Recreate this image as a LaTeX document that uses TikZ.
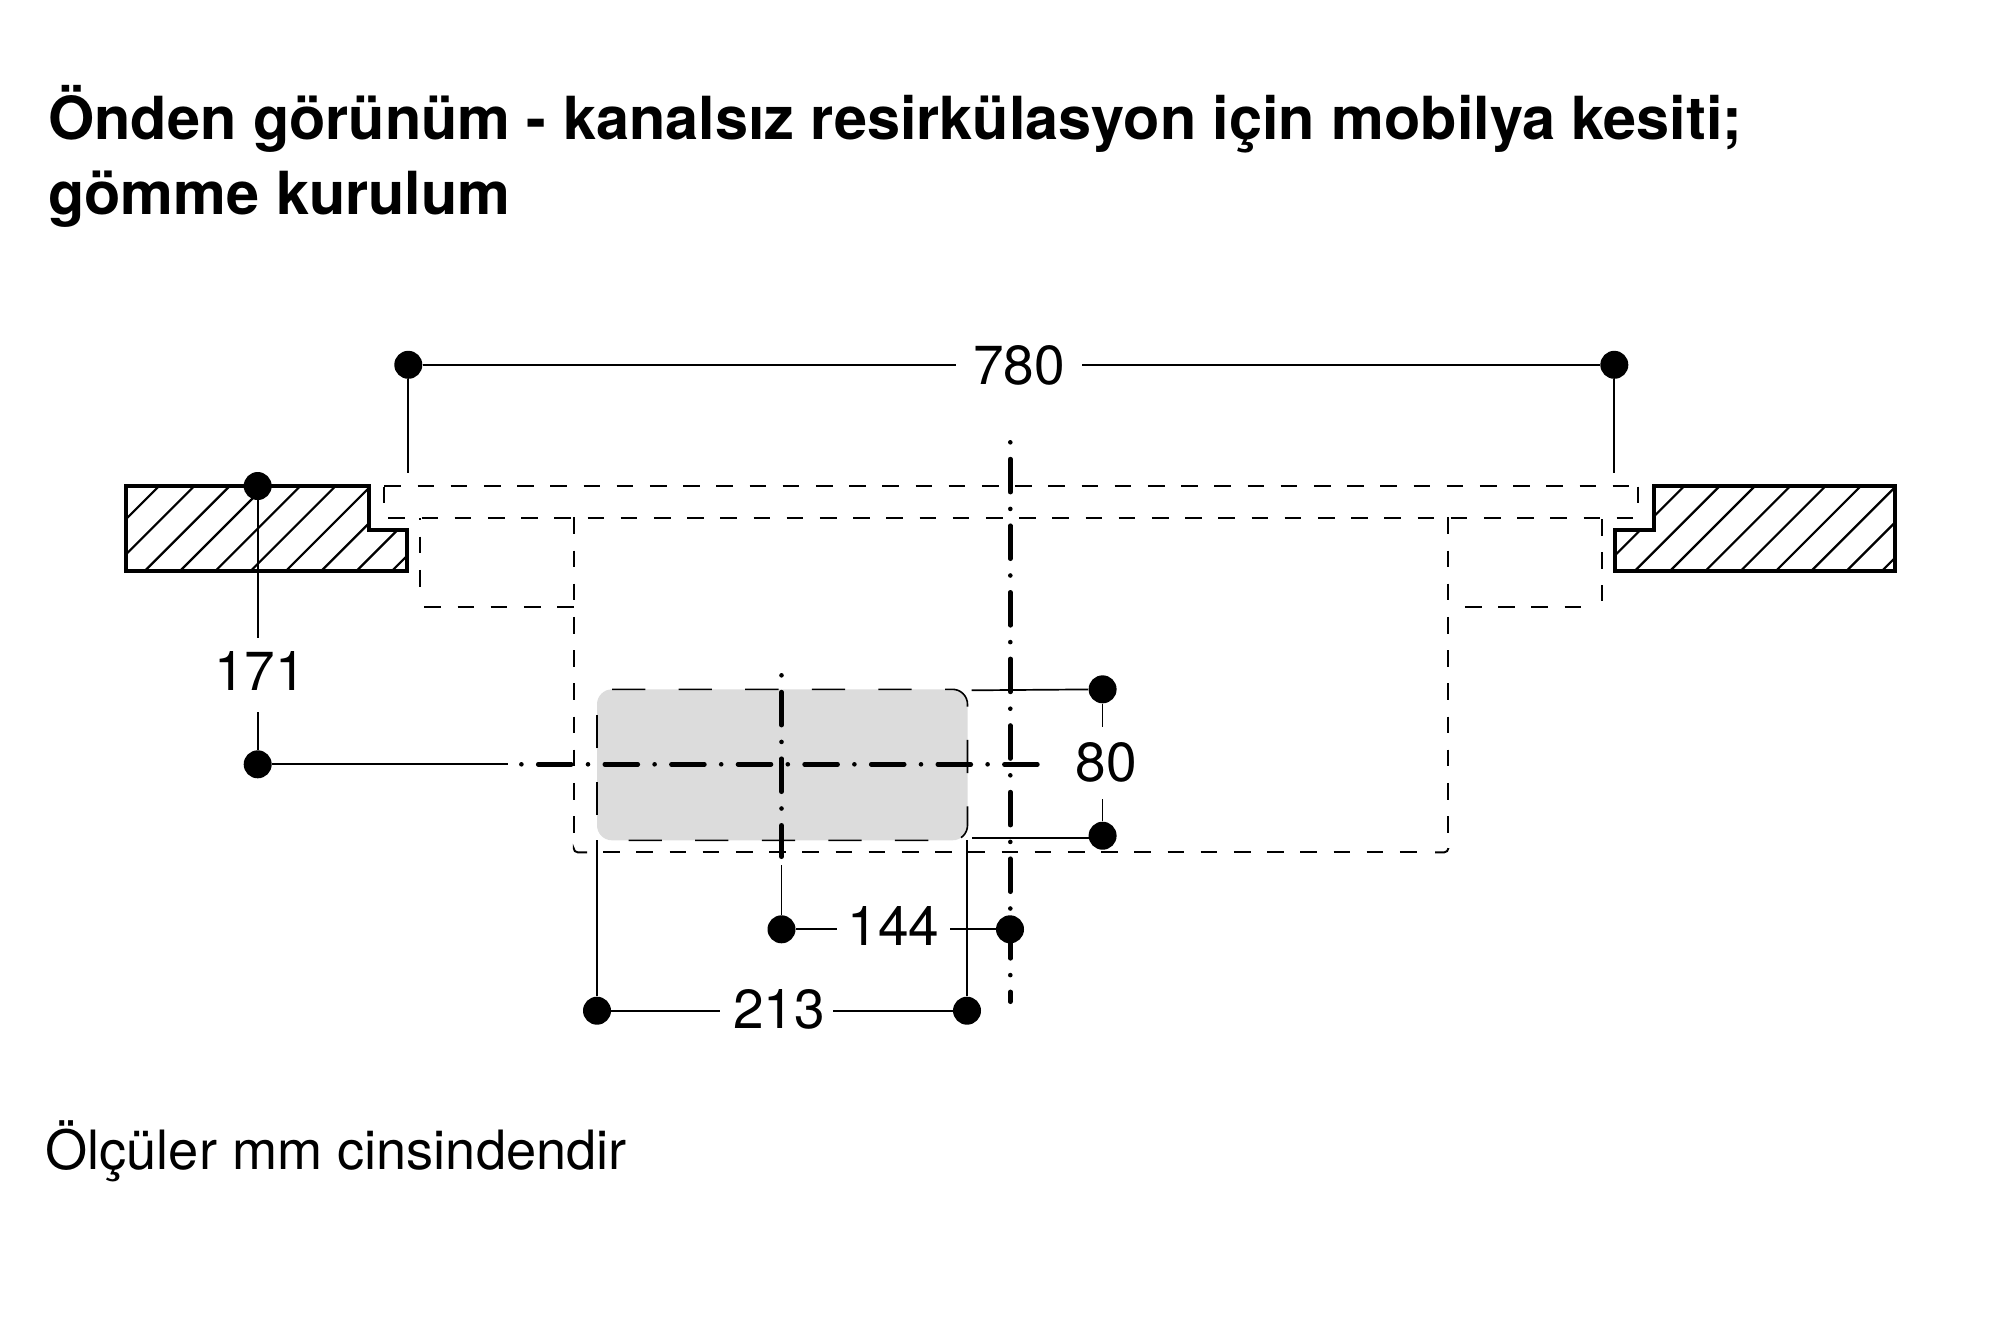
\documentclass[tikz,border=0pt]{standalone}
\usepackage{fontspec}
\setmainfont{TeX Gyre Heros}
\definecolor{panelgray}{HTML}{DCDCDC}
\tikzset{
  x=0.5pt,y=-0.5pt,
  wall/.style={draw=black,line width=2pt,line join=miter},
  hatchline/.style={line width=1.1pt},
  hidden/.style={line width=0.95pt,dash pattern=on 8.3pt off 8.3pt},
  cornerline/.style={line width=0.95pt,rounded corners=2pt},
  panelline/.style={line width=0.8pt,dash pattern=on 16.65pt off 16.65pt},
  axis/.style={line width=2.3pt,line cap=round,dash pattern=on 0pt off 8.4pt on 16.5pt off 8.4pt},
  dimline/.style={line width=0.85pt},
  dimdot/.style={circle,fill=black,inner sep=0pt,minimum size=14pt},
  dimlabel/.style={font=\fontsize{27.5}{30}\selectfont,inner xsep=5pt,inner ysep=0pt,text height=19pt,text depth=0pt},
  titletext/.style={font=\fontsize{29.7}{34}\selectfont\bfseries,anchor=base west,inner sep=0pt},
  notetext/.style={font=\fontsize{27.1}{30}\selectfont,anchor=base west,inner sep=0pt},
}
\begin{document}
\begin{tikzpicture}
\useasboundingbox (0,0) rectangle (2000,1334);
% texts
\node[titletext] (t1) at (48,139) {Önden görünüm - kanalsız resirkülasyon için mobilya kesiti;};
\node[titletext] (t2) at (48,214) {gömme kurulum};
\node[notetext] (note) at (45,1169) {Ölçüler mm cinsindendir};
% gray panel
\fill[panelgray,rounded corners=7.5pt] (597,689.3) rectangle (967.5,840.3);
\draw[panelline,rounded corners=7.5pt] (612,689.3) -- (967.5,689.3) -- (967.5,840.3) -- (612,840.3);
\draw[panelline] (597,815) -- (597,700);
% walls
\begin{scope}
\clip (125.7,486) -- (368.7,486) -- (368.7,530) -- (406.7,530) -- (406.7,570.7) -- (125.7,570.7) -- cycle;
\foreach \k in {-3,...,9} \draw[hatchline] ({145+35.3*\k},570.7) -- ({145+35.3*\k+100},470.7);
\end{scope}
\draw[wall] (125.7,486) -- (368.7,486) -- (368.7,530) -- (406.7,530) -- (406.7,570.7) -- (125.7,570.7) -- cycle;
\begin{scope}
\clip (1895,486) -- (1654,486) -- (1654,530) -- (1615,530) -- (1615,570.7) -- (1895,570.7) -- cycle;
\foreach \k in {-2,...,8} \draw[hatchline] ({1635+35.3*\k},570.7) -- ({1635+35.3*\k+100},470.7);
\end{scope}
\draw[wall] (1895,486) -- (1654,486) -- (1654,530) -- (1615,530) -- (1615,570.7) -- (1895,570.7) -- cycle;
% hidden lines
\draw[hidden] (384.3,486) -- (1637.7,486);
\draw[hidden] (384.3,486.5) -- (384.3,503);
\draw[hidden] (1637.7,486.5) -- (1637.7,503);
\draw[hidden] (388.3,518.3) -- (1633.3,518.3);
\draw[hidden,dash phase=7.4] (420,518.3) -- (420,592);
\draw[hidden] (424.3,607.3) -- (573.7,607.3);
\draw[hidden] (573.7,517.3) -- (573.7,833);
\draw[cornerline] (573.7,849) -- (573.7,852.3) -- (587,852.3);
\draw[hidden] (603.1,852.3) -- (1432,852.3);
\draw[cornerline] (1435,852.3) -- (1448.3,852.3) -- (1448.3,848);
\draw[hidden] (1448.3,517.3) -- (1448.3,833);
\draw[hidden,dash phase=8.3] (1448.3,607.3) -- (1589.5,607.3);
\draw[hidden] (1602.3,519) -- (1602.3,601);
% axes
\draw[axis] (1010.3,442.3) -- (1010.3,1001.7);
\draw[axis] (781.5,675.3) -- (781.5,856.7);
\draw[axis] (521.4,764.3) -- (1038.7,764.3);
% dimensions
\node[dimdot] (a1) at (408.3,364.8) {};
\node[dimdot] (a2) at (1614.3,364.8) {};
\node[dimlabel,inner xsep=8.3pt] (l780) at (1019,365) {780};
\coordinate (a1e) at (408.3,473.3);
\coordinate (a2e) at (1614.3,473.3);
\draw[dimline] (a1) -- (a1 -| l780.west);
\draw[dimline] (a2) -- (a2 -| l780.east);
\draw[dimline] (a1) -- (a1e);
\draw[dimline] (a2) -- (a2e);
\node[dimdot] (b1) at (257.7,486) {};
\node[dimdot] (b2) at (257.7,764.3) {};
\node[dimlabel] (l171) at (260,671.5) {171};
\coordinate (b1e) at (257.7,637.7);
\coordinate (b2f) at (257.7,712);
\coordinate (b2e) at (508,764.3);
\draw[dimline] (b1) -- (b1e);
\draw[dimline] (b2) -- (b2f);
\draw[dimline] (b2) -- (b2e);
\node[dimdot] (c1) at (1102.6,689.3) {};
\node[dimdot] (c2) at (1102.6,835.7) {};
\node[dimlabel] (l80) at (1106.5,762) {80};
\coordinate (c1e) at (971.7,690.3);
\coordinate (c2e) at (971.7,838.3);
\coordinate (c1f) at (1102.6,726.7);
\coordinate (c2f) at (1102.6,799);
\coordinate (c2g) at (1102.6,838.3);
\draw[dimline] (c1) -- (c1f);
\draw[dimline] (c2) -- (c2f);
\draw[dimline] (c1) -- (c1e);
\draw[dimline] (c2g) -- (c2e);
\node[dimdot] (e1) at (781.5,929.3) {};
\node[dimdot] (e2) at (1010,929.3) {};
\node[dimlabel] (l144) at (893.5,926) {144};
\coordinate (e1e) at (781.5,865);
\draw[dimline] (e1) -- (e1 -| l144.west);
\draw[dimline] (e2) -- (e2 -| l144.east);
\draw[dimline] (e1) -- (e1e);
\node[dimdot] (f1) at (597,1010.7) {};
\node[dimdot] (f2) at (967,1010.7) {};
\node[dimlabel] (l213) at (779,1009) {213};
\coordinate (f1e) at (597,840.3);
\coordinate (f2e) at (967,840.3);
\coordinate (f1g) at (720,1010.7);
\coordinate (f2g) at (832.8,1010.7);
\draw[dimline] (f1) -- (f1g);
\draw[dimline] (f2) -- (f2g);
\draw[dimline] (f1) -- (f1e);
\draw[dimline] (f2) -- (f2e);
\end{tikzpicture}
\end{document}
